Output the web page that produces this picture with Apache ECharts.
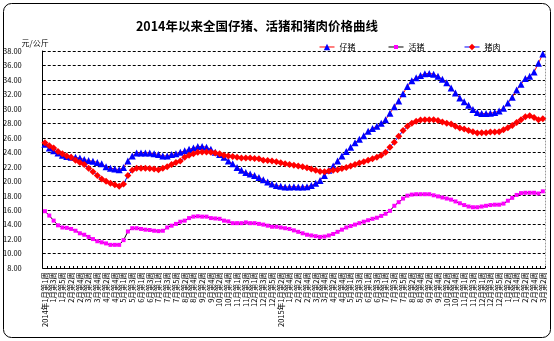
<!DOCTYPE html>
<html>
<head>
<meta charset="utf-8">
<script src="https://cdn.jsdelivr.net/npm/echarts@6/dist/echarts.min.js"></script>
<style>
  html, body { margin: 0; padding: 0; background: #fff; }
  #chart { width: 554px; height: 341px; }
</style>
</head>
<body>
<div id="chart"></div>
<script>
// Weekly price series, 2014-01 week 1 through 2016-03 week 2 (元/公斤)
const years = [2014, 2015, 2016];
const yearPrefix = ['2014年', '2015年', ''];
const weeksPerMonth = [
  [5, 4, 4, 5, 4, 4, 5, 4, 4, 5, 4, 5],
  [4, 4, 4, 5, 4, 4, 5, 4, 4, 5, 4, 5],
  [4, 4, 2]
];

const piglet = [
  25.1, 24.6, 24.2, 23.9, 23.6, 23.4, 23.3, 23.3, 23.2, 23.0,
  22.85, 22.75, 22.6, 22.4, 22.0, 21.8, 21.7, 21.6, 21.9, 22.8,
  23.5, 23.9, 23.9, 23.9, 23.9, 23.8, 23.7, 23.5, 23.5, 23.7,
  23.8, 24.0, 24.2, 24.4, 24.6, 24.8, 24.8, 24.7, 24.4, 24.0,
  23.7, 23.3, 22.8, 22.4, 21.9, 21.5, 21.2, 21.0, 20.8, 20.5,
  20.2, 19.9, 19.6, 19.4, 19.3, 19.2, 19.2, 19.25, 19.2, 19.2,
  19.25, 19.4, 19.7, 20.1, 20.8, 21.5, 22.1, 22.8, 23.5, 24.1,
  24.7, 25.3, 25.8, 26.3, 26.9, 27.3, 27.6, 28.0, 28.5, 29.4,
  30.3, 31.1, 32.1, 33.1, 33.9, 34.3, 34.6, 34.85, 34.9, 34.8,
  34.5, 34.1, 33.6, 32.9, 32.2, 31.5, 31.0, 30.5, 29.9, 29.5,
  29.35, 29.35, 29.4, 29.5, 29.7, 30.1, 30.8, 31.6, 32.6, 33.4,
  34.2, 34.5, 35.1, 36.3, 37.6
];

const hog = [
  15.85, 15.25, 14.55, 13.9, 13.6, 13.55, 13.4, 13.15, 12.8, 12.6,
  12.3, 12.0, 11.7, 11.55, 11.4, 11.2, 11.2, 11.2, 11.85, 13.05,
  13.5, 13.5, 13.4, 13.3, 13.25, 13.15, 13.1, 13.15, 13.6, 13.85,
  14.1, 14.4, 14.55, 14.9, 15.1, 15.15, 15.1, 15.1, 14.9, 14.85,
  14.8, 14.55, 14.45, 14.2, 14.2, 14.2, 14.3, 14.2, 14.2, 14.1,
  14.0, 13.85, 13.7, 13.7, 13.6, 13.5, 13.4, 13.2, 13.0, 12.8,
  12.6, 12.5, 12.4, 12.3, 12.35, 12.5, 12.7, 13.0, 13.3, 13.6,
  13.8, 14.0, 14.2, 14.4, 14.6, 14.8, 14.95, 15.2, 15.5, 15.9,
  16.6, 17.1, 17.6, 18.0, 18.15, 18.2, 18.2, 18.2, 18.2, 18.05,
  17.9, 17.75, 17.6, 17.45, 17.2, 16.95, 16.7, 16.5, 16.4, 16.4,
  16.5, 16.6, 16.7, 16.75, 16.75, 16.9, 17.3, 17.7, 18.1, 18.35,
  18.4, 18.4, 18.4, 18.3, 18.6
];

const pork = [
  25.3, 24.9, 24.6, 24.1, 23.8, 23.5, 23.3, 22.9, 22.6, 22.3,
  21.8, 21.3, 20.8, 20.3, 20.0, 19.7, 19.5, 19.3, 19.6, 20.8,
  21.5, 21.8, 21.8, 21.8, 21.75, 21.7, 21.6, 21.8, 22.0, 22.3,
  22.6, 22.8, 23.3, 23.6, 23.8, 24.0, 24.05, 24.05, 24.0, 23.9,
  23.8, 23.6, 23.5, 23.4, 23.3, 23.2, 23.2, 23.2, 23.15, 23.1,
  22.9, 22.85, 22.8, 22.7, 22.55, 22.4, 22.3, 22.2, 22.1, 22.0,
  21.85, 21.7, 21.5, 21.35, 21.3, 21.4, 21.5, 21.6, 21.75, 21.9,
  22.1, 22.3, 22.5, 22.7, 22.9, 23.1, 23.3, 23.6, 24.0, 24.7,
  25.4, 26.2, 27.0, 27.6, 28.0, 28.3, 28.45, 28.5, 28.5, 28.5,
  28.4, 28.2, 28.0, 27.9, 27.6, 27.35, 27.2, 27.0, 26.85, 26.65,
  26.7, 26.7, 26.8, 26.8, 26.85, 27.1, 27.4, 27.7, 28.1, 28.5,
  28.9, 29.05, 28.8, 28.5, 28.65
];

// Week labels: "M月第N周"; the year is prefixed on the first labelled week of 2014 and 2015
const weekLabels = [];
years.forEach((yr, yi) => {
  let pending = yearPrefix[yi];
  weeksPerMonth[yi].forEach((count, mi) => {
    for (let w = 1; w <= count; w++) {
      let label = (mi + 1) + '月第' + w + '周';
      if (pending && weekLabels.length % 2 === 0) {
        label = pending + label;
        pending = '';
      }
      weekLabels.push(label);
    }
  });
});

const FONT = '"Noto Sans CJK SC", "Liberation Sans", sans-serif';

// Series styling: line colour and marker colour differ per series
const styles = {
  '仔猪': { line: '#ff0000', mark: '#0000ff', symbol: 'triangle', size: 7 },
  '活猪': { line: '#000000', mark: '#ff00ff', symbol: 'rect', size: 4 },
  '猪肉': { line: '#0000ff', mark: '#ff0000', symbol: 'diamond', size: 7 }
};

function legendFor(name, left, itemHeight) {
  const s = styles[name];
  return {
    data: [{
      name: name,
      itemStyle: { color: s.mark },
      lineStyle: { color: s.line, width: 1 }
    }],
    left: left, top: 38,
    itemWidth: 15, itemHeight: itemHeight, itemGap: 4,
    textStyle: { fontFamily: FONT, fontSize: 8, color: '#000' }
  };
}

function lineSeries(name, data) {
  const s = styles[name];
  return {
    name: name, type: 'line', data: data,
    symbol: s.symbol, symbolSize: s.size, showAllSymbol: true,
    lineStyle: { color: s.line, width: 1 },
    itemStyle: { color: s.mark }
  };
}

const chart = echarts.init(document.getElementById('chart'), null, { renderer: 'canvas' });

chart.setOption({
  backgroundColor: '#fff',
  animation: false,
  title: {
    text: '2014年以来全国仔猪、活猪和猪肉价格曲线',
    left: 252,
    top: 15,
    textAlign: 'center',
    textStyle: { fontFamily: FONT, fontSize: 12.5, fontWeight: 'bold', color: '#000' }
  },
  legend: [
    legendFor('仔猪', 314, 8),
    legendFor('活猪', 383, 5),
    legendFor('猪肉', 459, 8)
  ],
  grid: { left: 40, right: 9, top: 51, bottom: 73 },
  xAxis: {
    type: 'category',
    data: weekLabels,
    boundaryGap: true,
    axisLine: { lineStyle: { color: '#000', width: 1 } },
    axisTick: { show: true, inside: true, length: 2, interval: 0, lineStyle: { color: '#000' } },
    axisLabel: {
      interval: 1, rotate: 90, margin: 4,
      fontFamily: FONT, fontSize: 7.5, color: '#000'
    },
    splitLine: { show: false }
  },
  yAxis: [
    {
      type: 'value',
      name: '元/公斤',
      nameLocation: 'end',
      nameGap: 3,
      nameTextStyle: { fontFamily: FONT, fontSize: 8, color: '#000', align: 'right', padding: [0, -6, 0, 0] },
      min: 8, max: 38, interval: 2,
      axisLine: { show: true, lineStyle: { color: '#000', width: 1 } },
      axisTick: { show: false },
      axisLabel: {
        margin: 21, fontFamily: FONT, fontSize: 7.5, color: '#000',
        formatter: v => v.toFixed(2)
      },
      splitLine: { show: true, lineStyle: { color: '#000', type: [3, 2], width: 1 } }
    },
    {
      type: 'value',
      position: 'right',
      min: 8, max: 38, interval: 2,
      axisLine: { show: true, lineStyle: { color: '#999', type: [1, 2], width: 1 } },
      axisTick: { show: false },
      axisLabel: { show: false },
      splitLine: { show: false }
    }
  ],
  series: [
    lineSeries('仔猪', piglet),
    lineSeries('活猪', hog),
    lineSeries('猪肉', pork)
  ],
  graphic: [
    {
      type: 'rect',
      shape: { x: 3.5, y: 3.5, width: 547, height: 334, r: 8 },
      style: { fill: 'none', stroke: '#000', lineWidth: 1 },
      silent: true
    }
  ]
});
</script>
</body>
</html>
